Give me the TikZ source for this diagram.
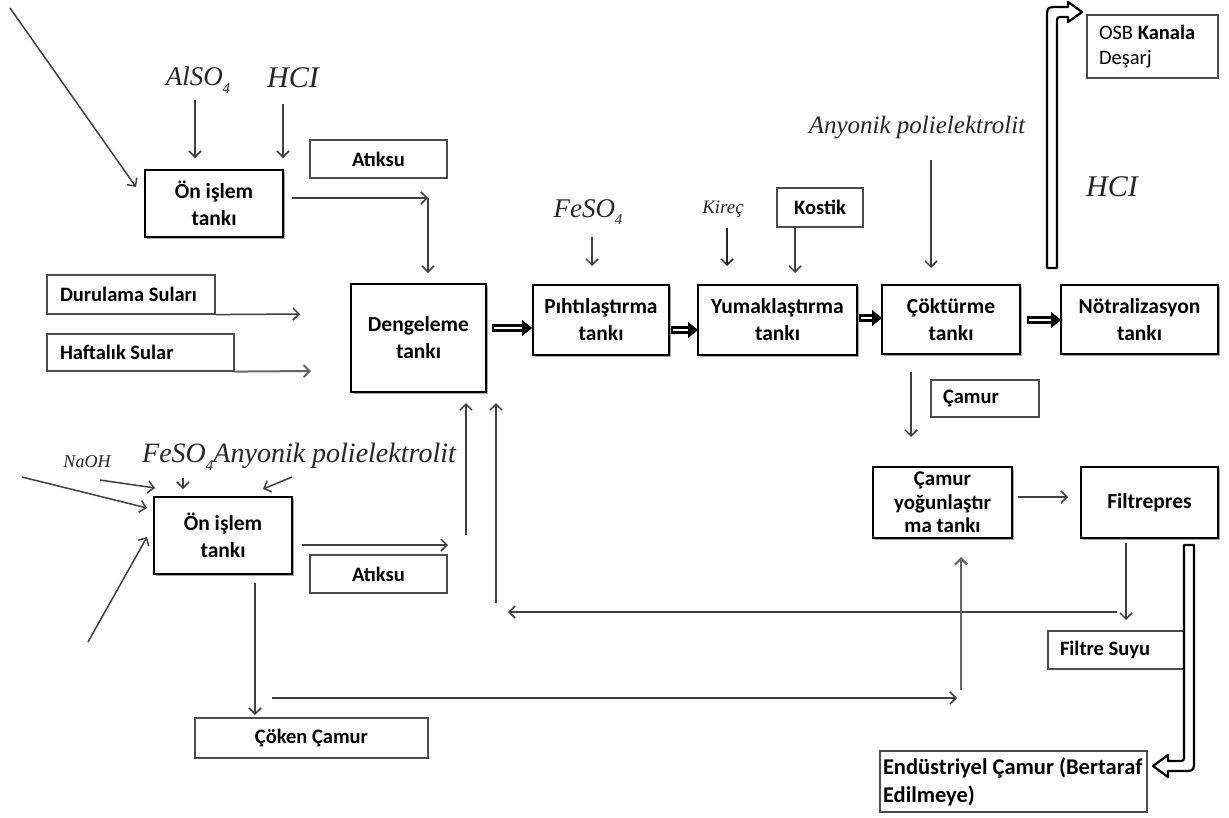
\documentclass[tikz,border=0pt]{standalone}
\usepackage{fontspec}
\setmainfont{Carlito}
\newfontfamily\chemfont{Liberation Serif}
\usetikzlibrary{arrows.meta,shadows}
\newcommand\chemsize[1]{\chemfont\itshape\fontsize{#1}{#1}\selectfont}
\newcommand\lowfour[1]{\raisebox{-0.28em}{\fontsize{#1}{#1}\selectfont 4}}
% thick double-stroke arrow between two named points
\newcommand\dblarrow[2]{%
  \draw[line width=8pt, -{Triangle[length=10pt,width=16pt,line width=0.4pt]}] (#1) -- (#2);
  \draw[white, line width=2.4pt, shorten <=1.5pt, shorten >=10pt] (#1) -- (#2);}

\begin{document}
\begin{tikzpicture}[x=1pt,y=-1pt,
  tank/.style={draw=black, line width=2.6pt, fill=white, align=center,
    font=\fontsize{21.5}{27}\selectfont\bfseries, inner sep=2pt,
    drop shadow={shadow xshift=1.6pt, shadow yshift=-1.6pt, fill=black!35, opacity=1}},
  lbl/.style={draw=black!70, line width=1.2pt, fill=white, align=center,
    font=\fontsize{20.5}{25}\selectfont\bfseries, inner sep=0pt,
    drop shadow={shadow xshift=1.4pt, shadow yshift=-1.4pt, fill=black!30, opacity=1}},
  chem/.style={inner sep=0pt, text=black!85},
  arr/.style={draw=black!75, line width=1.5pt, -{Straight Barb[length=6pt,width=12pt]}},
  tube/.style={draw=black, line width=2.2pt, fill=white, line join=round}]

\path[fill=white, use as bounding box] (0,0) rectangle (1229,817);

% ---------- process tanks ----------
\node[tank, minimum width=138pt, minimum height=67pt] (on1) at (214,203.5) {Ön işlem\\tankı};
\node[tank, minimum width=135pt, minimum height=108pt] (deng) at (418.5,338) {Dengeleme\\tankı};
\node[tank, minimum width=136pt, minimum height=70pt] (piht) at (601,320) {Pıhtılaştırma\\tankı};
\node[tank, minimum width=159pt, minimum height=70pt] (yuma) at (777.5,320) {Yumaklaştırma\\tankı};
\node[tank, minimum width=138pt, minimum height=69pt] (cokt) at (951,319.5) {Çöktürme\\tankı};
\node[tank, minimum width=157pt, minimum height=69pt] (notr) at (1139.5,319.5) {Nötralizasyon\\tankı};
\node[tank, minimum width=138pt, minimum height=77pt] (on2) at (223,535.5) {Ön işlem\\tankı};
\node[tank, minimum width=139pt, minimum height=71pt, inner sep=0pt,
      font=\fontsize{21}{23.5}\selectfont\bfseries] (yog) at (942.5,502.5) {Çamur\\yoğunlaştır\\ma tankı};
\node[tank, minimum width=137pt, minimum height=71pt] (filt) at (1149.5,502.5) {Filtrepres};

% ---------- label boxes ----------
\node[lbl, minimum width=137pt, minimum height=38pt] (atk1) at (378.5,159) {Atıksu};
\node[lbl, minimum width=137pt, minimum height=38pt] (atk2) at (378.5,574) {Atıksu};
\node[lbl, text width=142pt, inner xsep=13pt, align=flush left, minimum height=39pt] (durul) at (131,294.5) {Durulama Suları};
\node[lbl, text width=161pt, inner xsep=13pt, align=flush left, minimum height=37pt] (hafta) at (140.5,352.5) {Haftalık Sular};
\node[lbl, minimum width=86pt, minimum height=39pt] (kostik) at (820,207.5) {Kostik};
\node[lbl, text width=107pt, inner xsep=12pt, align=flush left, minimum height=63pt,
      font=\fontsize{20.5}{25}\selectfont] (osb) at (1152.5,46.5) {OSB \textbf{Kanala}\\Deşarj};
\node[lbl, text width=84pt, inner xsep=12pt, align=flush left, minimum height=37pt] (camur) at (985,398.5) {Çamur};
\node[lbl, minimum width=233pt, minimum height=40pt] (coken) at (311.5,738) {Çöken Çamur};
\node[lbl, text width=113pt, inner xsep=12pt, align=flush left, minimum height=38pt] (fsuyu) at (1116.5,650) {Filtre Suyu};
\node[lbl, text width=261pt, inner xsep=3pt, align=flush left, minimum height=61pt,
      font=\fontsize{22.5}{28}\selectfont\bfseries] (endus) at (1013.5,781.5) {Endüstriyel Çamur (Bertaraf\\Edilmeye)};

% ---------- chemical dosing labels ----------
\node[chem, font=\chemsize{27}] (also) at (198,80) {AlSO\lowfour{15}};
\node[chem, font=\chemsize{30}] (hcla) at (293,78) {HCI};
\node[chem, font=\chemsize{27}] (fesoa) at (588,212) {FeSO\lowfour{15}};
\node[chem, font=\chemsize{19}] (kirec) at (723,209) {Kireç};
\node[chem, font=\chemsize{25}] (anya) at (917,128) {Anyonik polielektrolit};
\node[chem, font=\chemsize{30}] (hclb) at (1112,187) {HCI};
\node[chem, font=\chemsize{18}] (naoh) at (87,462) {NaOH};
\node[chem, font=\chemsize{28}] (fesob) at (299,457) {FeSO\lowfour{15}Anyonik polielektrolit};

% ---------- connector end points ----------
\coordinate (p1a) at (10,8);     \coordinate (p1b) at (136,187);
\coordinate (p2a) at (195,100);  \coordinate (p2b) at (195,158);
\coordinate (p3a) at (283,104);  \coordinate (p3b) at (283,158);
\coordinate (p4a) at (292,198);  \coordinate (p4b) at (428,198);
\coordinate (p5b) at (428,273);
\coordinate (p6b) at (300,314);
\coordinate (p7b) at (311,371);
\coordinate (p11a) at (592,237); \coordinate (p11b) at (592,266);
\coordinate (p12a) at (727,228); \coordinate (p12b) at (727,266);
\coordinate (p13a) at (795,227); \coordinate (p13b) at (795,273);
\coordinate (p14a) at (931,160); \coordinate (p14b) at (931,268);
\coordinate (p15a) at (911,372); \coordinate (p15b) at (911,437);
\coordinate (p16a) at (1018,497); \coordinate (p16b) at (1068,497);
\coordinate (p17a) at (1126,543); \coordinate (p17b) at (1126,620);
\coordinate (p18a) at (1117,612); \coordinate (p18b) at (508,612);
\coordinate (p19a) at (496,603); \coordinate (p19b) at (496,403);
\coordinate (p20a) at (466,535); \coordinate (p20b) at (466,403);
\coordinate (p21a) at (302,545); \coordinate (p21b) at (448,545);
\coordinate (p22a) at (255,583); \coordinate (p22b) at (255,715);
\coordinate (p23a) at (272,698); \coordinate (p23b) at (957,698);
\coordinate (p24a) at (961,690); \coordinate (p24b) at (961,557);
\coordinate (p25a) at (100,480); \coordinate (p25b) at (155,488);
\coordinate (p26a) at (22,477);  \coordinate (p26b) at (147,508);
\coordinate (p27a) at (183,478); \coordinate (p27b) at (183,489);
\coordinate (p28a) at (292,477); \coordinate (p28b) at (263,489);
\coordinate (p29a) at (88,642);  \coordinate (p29b) at (147,537);
\coordinate (d1a) at (492,328);  \coordinate (d1b) at (532,328);
\coordinate (d2a) at (671,330);  \coordinate (d2b) at (698,330);
\coordinate (d3a) at (859,318);  \coordinate (d3b) at (882,318);
\coordinate (d4a) at (1027,320); \coordinate (d4b) at (1061,320);

% ---------- thin connectors ----------
\draw[arr] (p1a) -- (p1b);
\draw[arr] (p2a) -- (p2b);
\draw[arr] (p3a) -- (p3b);
\draw[arr] (p4a) -- (p4b);
\draw[arr] (p4b) -- (p5b);
\draw[arr] (durul.south east) -- (p6b);
\draw[arr, draw=black!60, line width=2pt] (hafta.south east) -- (p7b);
\draw[arr] (p11a) -- (p11b);
\draw[arr, draw=black!85] (p12a) -- (p12b);
\draw[arr] (p13a) -- (p13b);
\draw[arr] (p14a) -- (p14b);
\draw[arr] (p15a) -- (p15b);
\draw[arr] (p16a) -- (p16b);
\draw[arr] (p17a) -- (p17b);
\draw[arr] (p18a) -- (p18b);
\draw[arr] (p19a) -- (p19b);
\draw[arr] (p20a) -- (p20b);
\draw[arr] (p21a) -- (p21b);
\draw[arr] (p22a) -- (p22b);
\draw[arr] (p23a) -- (p23b);
\draw[arr, draw=black!60, line width=2.2pt] (p24a) -- (p24b);
\draw[arr] (p25a) -- (p25b);
\draw[arr] (p26a) -- (p26b);
\draw[arr] (p27a) -- (p27b);
\draw[arr] (p28a) -- (p28b);
\draw[arr] (p29a) -- (p29b);

% ---------- main line double arrows ----------
\dblarrow{d1a}{d1b}
\dblarrow{d2a}{d2b}
\dblarrow{d3a}{d3b}
\dblarrow{d4a}{d4b}

% ---------- hollow discharge arrows ----------
\draw[tube] (1047,268) -- (1047,19) .. controls (1047,7) .. (1059,7) -- (1068,7)
  -- (1068,2) -- (1082,12) -- (1068,22) -- (1068,17) -- (1063,17)
  .. controls (1057,17) .. (1057,23) -- (1057,268) -- cycle;
\draw[tube] (1184,545) -- (1184,755) .. controls (1184,761) .. (1178,761) -- (1168,761)
  -- (1168,755) -- (1153,766) -- (1168,777) -- (1168,771) -- (1182,771)
  .. controls (1194,771) .. (1194,759) -- (1194,545) -- cycle;

\end{tikzpicture}
\end{document}
